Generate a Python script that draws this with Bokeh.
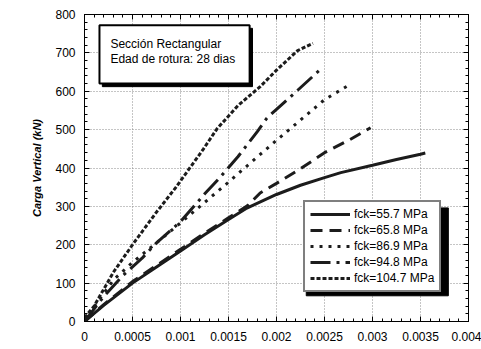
from bokeh.plotting import figure
from bokeh.models import (Range1d, LinearAxis, FixedTicker, Legend, LegendItem)
from bokeh.core.properties import value
from bokeh.embed import file_html
from bokeh.resources import INLINE

# ---------------- data ----------------
series_names = ["fck=55.7 MPa", "fck=65.8 MPa", "fck=86.9 MPa", "fck=94.8 MPa", "fck=104.7 MPa"]

strain_557 = [0, 0.0002, 0.0005, 0.00075, 0.001, 0.00125, 0.0015, 0.00168, 0.002, 0.00225, 0.0025, 0.00267, 0.003, 0.00325, 0.0035, 0.00355]
load_557 = [0, 42, 100, 142, 184, 226, 266, 294, 331, 355, 375, 388, 407, 422, 436, 439]

strain_658 = [0, 0.0002, 0.0005, 0.00075, 0.001, 0.00125, 0.0015, 0.0017, 0.00183, 0.002, 0.00225, 0.0025, 0.00275, 0.00298]
load_658 = [0, 44, 104, 146, 188, 230, 270, 302, 335, 360, 398, 440, 472, 505]

strain_869 = [0, 0.0001, 0.0003, 0.0005, 0.00075, 0.001, 0.00125, 0.0015, 0.00175, 0.002, 0.00225, 0.0025, 0.00276]
load_869 = [0, 38, 108, 154, 205, 257, 310, 363, 418, 472, 525, 578, 617]

strain_948 = [0, 0.0002, 0.0004, 0.0006, 0.00075, 0.001, 0.00125, 0.0014, 0.0016, 0.0018, 0.0019, 0.002, 0.0022, 0.00248]
load_948 = [0, 65, 120, 165, 205, 260, 332, 372, 430, 495, 530, 553, 598, 662]

strain_1047 = [0, 0.0001, 0.0003, 0.0005, 0.00075, 0.00095, 0.00124, 0.00138, 0.0016, 0.00183, 0.002, 0.00222, 0.00238]
load_1047 = [10, 40, 128, 200, 285, 349, 450, 502, 563, 612, 655, 706, 725]

x_ticks = [0, 0.0005, 0.001, 0.0015, 0.002, 0.0025, 0.003, 0.0035, 0.004]
x_tick_labels = ["0", "0.0005", "0.001", "0.0015", "0.002", "0.0025", "0.003", "0.0035", "0.004"]
y_ticks = [0, 100, 200, 300, 400, 500, 600, 700, 800]

y_label = "Carga Vertical (kN)"
note_lines = ["Sección Rectangular", "Edad de rotura: 28 dias"]

# ---------------- figure ----------------
FONT = "Liberation Sans"
p = figure(width=481, height=349, output_backend="svg", toolbar_location=None,
           x_range=Range1d(0, 0.004), y_range=Range1d(0, 800),
           min_border_left=84, min_border_right=13, min_border_top=14, min_border_bottom=28,
           background_fill_color="white", border_fill_color="white")
p.outline_line_color = "black"
p.outline_line_width = 1

x_minor = [i * 0.0001 for i in range(41)]
y_minor = [i * 20 for i in range(41)]

for ax in (p.xaxis[0], p.yaxis[0]):
    ax.major_tick_in = 5
    ax.major_tick_out = 0
    ax.minor_tick_in = 3
    ax.minor_tick_out = 0
    ax.axis_line_color = "black"
    ax.major_tick_line_color = "black"
    ax.minor_tick_line_color = "black"
    ax.major_label_text_font = FONT
    ax.major_label_text_font_size = "12px"
    ax.major_label_text_color = "black"

p.xaxis[0].ticker = FixedTicker(ticks=x_ticks, minor_ticks=x_minor)
p.xaxis[0].major_label_overrides = {t: l for t, l in zip(x_ticks, x_tick_labels)}
p.xaxis[0].major_label_standoff = 10
p.yaxis[0].ticker = FixedTicker(ticks=y_ticks, minor_ticks=y_minor)
p.yaxis[0].major_label_standoff = 9
p.yaxis[0].axis_label = y_label
p.yaxis[0].axis_label_text_font = FONT
p.yaxis[0].axis_label_text_font_style = "bold italic"
p.yaxis[0].axis_label_text_font_size = "11px"
p.yaxis[0].axis_label_text_color = "black"
p.yaxis[0].axis_label_standoff = 9

# mirrored axes (ticks only, no labels)
top_ax = LinearAxis(ticker=FixedTicker(ticks=x_ticks, minor_ticks=x_minor),
                    major_tick_in=5, major_tick_out=0, minor_tick_in=3, minor_tick_out=0,
                    major_label_text_color=None, major_label_standoff=0)
right_ax = LinearAxis(ticker=FixedTicker(ticks=y_ticks, minor_ticks=y_minor),
                      major_tick_in=5, major_tick_out=0, minor_tick_in=3, minor_tick_out=0,
                      major_label_text_color=None, major_label_standoff=0)
p.add_layout(top_ax, "above")
p.add_layout(right_ax, "right")

for g in (p.xgrid[0], p.ygrid[0]):
    g.grid_line_color = "#8a8a8a"
    g.grid_line_dash = "1 2"
    g.grid_line_width = 1
p.xgrid[0].ticker = FixedTicker(ticks=x_ticks)
p.ygrid[0].ticker = FixedTicker(ticks=y_ticks)

# ---------------- curves ----------------
col = "#1c1c1c"
r1 = p.line(strain_557, load_557, line_color=col, line_width=3)
r2 = p.line(strain_658, load_658, line_color=col, line_width=3, line_dash="12 7")
r3 = p.line(strain_869, load_869, line_color=col, line_width=3, line_dash="3 6")
r4 = p.line(strain_948, load_948, line_color=col, line_width=3, line_dash="20 6 3 6")
r5 = p.line(strain_1047, load_1047, line_color=col, line_width=3, line_dash="4 2")

# ---------------- note box (with shadow) ----------------
dx = 0.00003
dy = 8
bx0, bx1, by0, by1 = 0.000156, 0.00172, 620, 772
p.quad(left=bx0 + dx, right=bx1 + dx, bottom=by0 - dy, top=by1 - dy, fill_color="black", line_color="black")
p.quad(left=bx0, right=bx1, bottom=by0, top=by1, fill_color="white", line_color="black", line_width=2)
p.text(x=[0.00027, 0.00027], y=[724, 683], text=note_lines, text_font=value(FONT),
       text_font_size="12px", text_color="black", text_baseline="middle")

# ---------------- legend (with shadow) ----------------
lx0, lx1, ly0, ly1 = 0.00228, 0.00376, 75, 304
p.quad(left=lx0 + dx, right=lx1 + dx, bottom=ly0 - dy, top=ly1 - dy, fill_color="black", line_color="black")

legend = Legend(items=[LegendItem(label=n, renderers=[r]) for n, r in
                       zip(series_names, [r1, r2, r3, r4, r5])],
                location=(219, 29), orientation="vertical",
                label_text_font=FONT, label_text_font_size="12px", label_text_color="black",
                glyph_width=40, glyph_height=14, label_height=14, spacing=2, padding=5,
                margin=0, label_standoff=4,
                border_line_color="black", border_line_width=2,
                background_fill_color="white", background_fill_alpha=1.0)
p.add_layout(legend, "center")

open("out.html", "w").write(file_html(p, INLINE))
